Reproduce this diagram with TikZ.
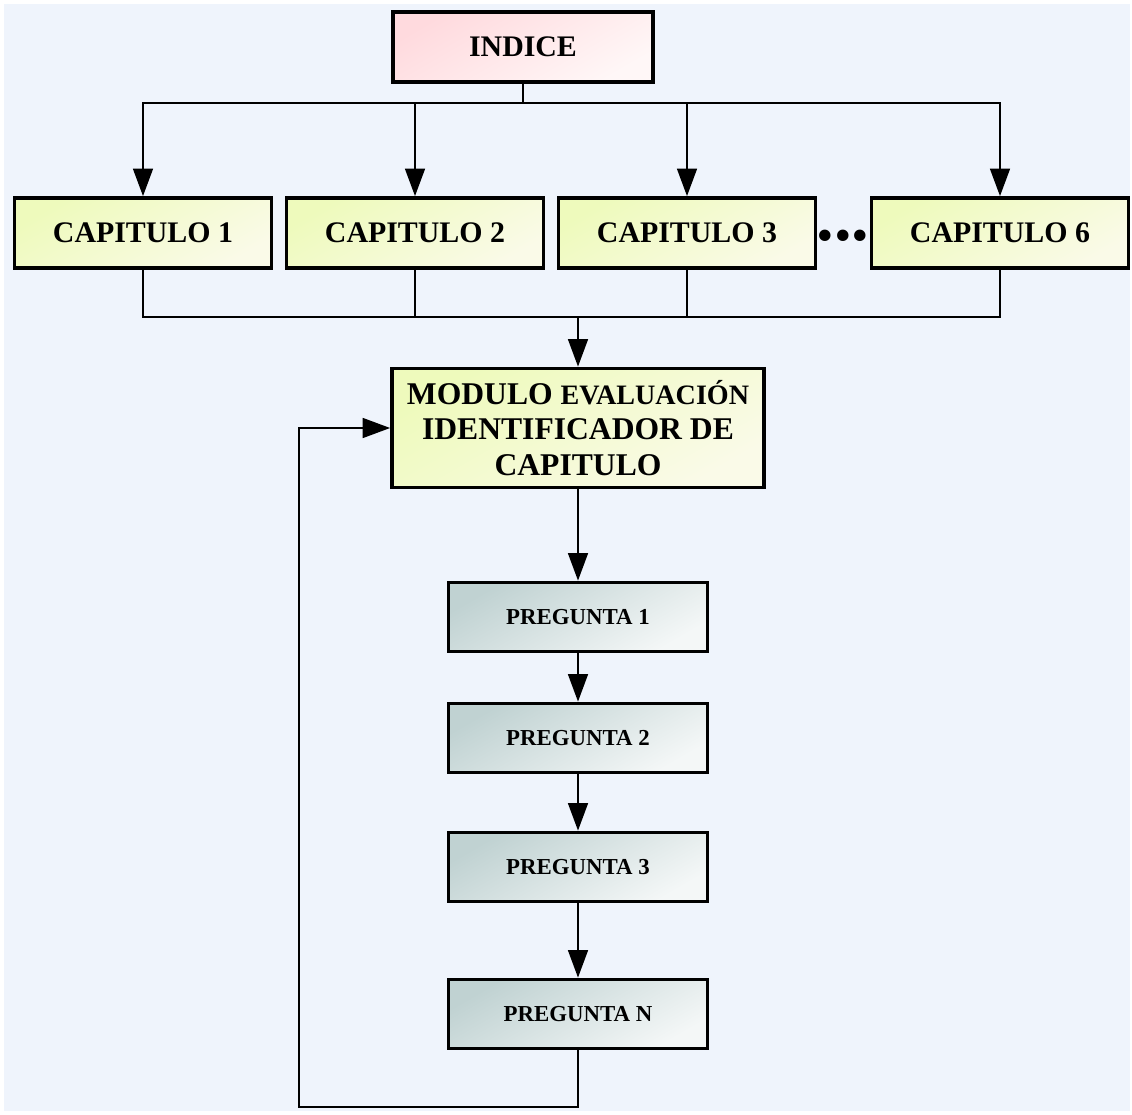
\documentclass[tikz,border=0pt]{standalone}
\usepackage{fontspec}
\setmainfont{Liberation Serif}
\usepackage{tikz}
\usetikzlibrary{shapes,arrows,arrows.meta,positioning,calc}
\definecolor{fondo}{RGB}{239,244,252}
\definecolor{rosaA}{RGB}{255,218,222}
\definecolor{rosaB}{RGB}{255,247,247}
\definecolor{amarA}{RGB}{238,250,188}
\definecolor{amarB}{RGB}{250,250,232}
\definecolor{grisA}{RGB}{192,210,210}
\definecolor{grisB}{RGB}{244,247,247}
\tikzset{
  caja/.style={draw,line width=2.2pt,align=center,inner sep=2pt,font=\bfseries},
  arr/.style={-{Triangle[length=0.55cm,width=0.4cm]}},
}
\begin{document}
\begin{tikzpicture}[x=0.02cm,y=-0.02cm,line width=0.9pt]
  \useasboundingbox (0,0) rectangle (1132,1115);
  \fill[fondo] (4,4) rectangle (1130,1111);
  % indice
  \node[caja,top color=rosaA,bottom color=rosaB,shading angle=30,minimum width=5.2cm,minimum height=1.4cm,font=\bfseries\fontsize{17}{20}\selectfont] (indice) at (523,47) {INDICE};
  \coordinate (bus) at (523,103);
  \draw (indice.south) -- (bus);
  \coordinate (union) at (578,317);
  \foreach \x/\n/\name in {143/c1/CAPITULO 1,415/c2/CAPITULO 2,687/c3/CAPITULO 3,1000/c6/CAPITULO 6}{
    \node[caja,top color=amarA,bottom color=amarB,shading angle=30,minimum width=5.14cm,minimum height=1.4cm,font=\bfseries\fontsize{17}{20}\selectfont] (\n) at (\x,233) {\name};
    \draw[arr] (bus) -| (\n.north);
    \draw (\n.south) |- (union);
  }
  \node[font=\bfseries\fontsize{40}{40}\selectfont,inner sep=0pt] (puntos) at (843,236) {...};
  % modulo
  \node[caja,top color=amarA,bottom color=amarB,shading angle=30,minimum width=7.44cm,minimum height=2.38cm,font=\bfseries\fontsize{18}{20}\selectfont] (modulo) at (578,428) {MODULO {\fontsize{16}{20}\selectfont EVALUACIÓN}\\IDENTIFICADOR DE\\CAPITULO};
  \draw[arr] (union) -- (modulo.north);
  % preguntas
  \foreach \y/\n/\name in {617/p1/PREGUNTA 1,738/p2/PREGUNTA 2,867/p3/PREGUNTA 3,1014/pn/PREGUNTA N}{
    \node[caja,top color=grisA,bottom color=grisB,shading angle=30,minimum width=5.18cm,minimum height=1.38cm,font=\bfseries\fontsize{13}{15}\selectfont] (\n) at (578,\y) {\name};
  }
  \draw[arr] (modulo.south) -- (p1.north);
  \draw[arr] (p1) -- (p2);
  \draw[arr] (p2) -- (p3);
  \draw[arr] (p3) -- (pn);
  \coordinate (vuelta) at (299,1107);
  \draw[arr] (pn.south) |- (vuelta) |- (modulo.west);
\end{tikzpicture}
\end{document}
